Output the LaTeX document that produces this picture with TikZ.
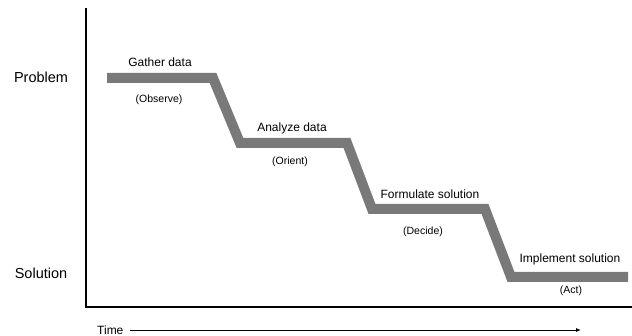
\documentclass[tikz,border=0pt]{standalone}
\usepackage{fontspec}
\setmainfont{Liberation Sans}
\usetikzlibrary{arrows.meta}
\tikzset{
  stage/.style={font=\fontsize{12}{14}\selectfont, inner sep=0pt},
  phase/.style={font=\fontsize{10.5}{12}\selectfont, inner sep=0pt},
  level/.style={font=\fontsize{14.5}{16}\selectfont, inner sep=0pt},
  band/.style={line width=10pt, draw=gray!95!black, line join=miter}
}
\begin{document}
\begin{tikzpicture}[x=1pt,y=-1pt]
\useasboundingbox (0,0) rectangle (632,336);
% axes
\coordinate (top) at (86,8);
\coordinate (origin) at (86,307);
\coordinate (right) at (632,307);
\draw[line width=1.3pt] (top)--(origin)--(right);
\node[level] (problem) at (41,77) {Problem};
\node[level] (solution) at (41,273) {Solution};
% time arrow
\node[stage, anchor=west] (time) at (97,330) {Time};
\coordinate (timeend) at (581,330);
\draw[line width=0.9pt,-{Latex[length=5pt,width=4pt]}] (time.east) ++(6,0) -- (timeend);
% staircase
\coordinate (s0) at (107,78);
\coordinate (s1) at (213,78);
\coordinate (s2) at (240,143);
\coordinate (s3) at (347,143);
\coordinate (s4) at (372,209);
\coordinate (s5) at (485,209);
\coordinate (s6) at (511,277);
\coordinate (s7) at (628,277);
\draw[band] (s0)--(s1)--(s2)--(s3)--(s4)--(s5)--(s6)--(s7);
\node[stage] (gather) at (160,62) {Gather data};
\node[phase] (observe) at (159,100) {(Observe)};
\node[stage] (analyze) at (292,128) {Analyze data};
\node[phase] (orient) at (290,162) {(Orient)};
\node[stage] (formulate) at (430,194) {Formulate solution};
\node[phase] (decide) at (423,232) {(Decide)};
\node[stage] (implement) at (570,259) {Implement solution};
\node[phase] (act) at (571,291) {(Act)};
\end{tikzpicture}
\end{document}
